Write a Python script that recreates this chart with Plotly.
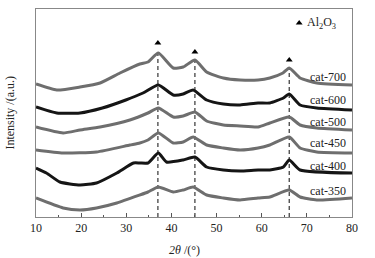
import plotly.graph_objects as go

# ---- data (intensity in arbitrary units) ----
two_theta_700 = [10, 14.6, 19.75, 24.2, 28.6, 33, 34.8, 37.1, 40.4, 42.6, 45.2, 47.8, 51.5, 55.2, 59.2, 61.8, 64.7, 66.1, 68.5, 72.2, 80]
cat_700 = [133, 127, 130, 134, 144, 153, 155, 164, 149, 150, 157, 145, 139, 137, 137, 139, 144, 149, 139, 134, 132]

two_theta_600 = [10, 14.6, 19.75, 24.7, 29.9, 33.7, 37.1, 40.4, 42.6, 44.8, 47.8, 51.5, 55.2, 59.2, 61.8, 64.8, 66.1, 68.5, 72.2, 80]
cat_600 = [110, 104, 104, 109, 117, 124, 132, 122, 123, 127, 117, 113, 112, 114, 114, 119, 123, 112, 109, 107]

two_theta_500 = [10, 16, 19.75, 24.2, 30.8, 34.8, 37.1, 40.4, 42.6, 45.2, 47.8, 51.5, 55.2, 59.2, 61.8, 66.1, 68.5, 72.2, 80]
cat_500 = [90, 84, 87, 90, 97, 104, 109, 100, 101, 105, 96, 92, 91, 90, 94, 100, 92, 89, 87]

two_theta_450 = [10, 16, 23.4, 30.8, 33, 34.8, 37.1, 40.4, 42.6, 44.8, 47.8, 51.5, 55.2, 59.2, 61.8, 66.1, 68.5, 72.2, 80]
cat_450 = [67, 64, 65, 72, 74, 77, 84, 74, 75, 80, 72, 69, 67, 69, 72, 80, 69, 65, 64]

two_theta_400 = [10, 12.3, 15.3, 19.75, 23.4, 27.9, 31.6, 33, 34.8, 37.1, 38.9, 42.6, 45.2, 47.8, 51.5, 55.2, 59.2, 61.8, 64.8, 66.1, 68.5, 80]
cat_400 = [49, 44, 35, 32, 34, 44, 54, 54, 54, 64, 55, 57, 60, 50, 47, 46, 47, 47, 50, 57, 47, 44]

two_theta_350 = [10, 16, 19.75, 23.4, 27.9, 33, 34.8, 37.1, 40.4, 42.6, 44.8, 47.8, 51.5, 55.2, 59.2, 61.8, 66.1, 68.5, 72.2, 80]
cat_350 = [19, 9, 7, 9, 14, 22, 25, 30, 25, 27, 30, 22, 19, 17, 19, 20, 27, 20, 17, 19]

series_names = ["cat-700", "cat-600", "cat-500", "cat-450", "cat-400", "cat-350"]
series_x = [two_theta_700, two_theta_600, two_theta_500, two_theta_450, two_theta_400, two_theta_350]
series_y = [cat_700, cat_600, cat_500, cat_450, cat_400, cat_350]
label_y = [140, 117, 95, 74, 51, 26]

al2o3_peaks = [37.0, 45.2, 66.1]
al2o3_line_top = [164, 157, 149]
al2o3_marker_y = [174, 165, 157]

x_ticks = [10, 20, 30, 40, 50, 60, 70, 80]

GRAY = "#6e6e6e"
BLACK = "#151515"
series_colors = [GRAY, BLACK, GRAY, GRAY, BLACK, GRAY]
FONT = "Liberation Serif, Times New Roman, serif"

fig = go.Figure()

# dashed reference lines at Al2O3 peaks
for px, top in zip(al2o3_peaks, al2o3_line_top):
    fig.add_trace(go.Scatter(x=[px, px], y=[0, top], mode="lines",
                             line=dict(color="#444444", width=1.3, dash="4px,3px"),
                             showlegend=False, hoverinfo="skip"))

for name, xs, ys, c in zip(series_names, series_x, series_y, series_colors):
    fig.add_trace(go.Scatter(x=xs, y=ys, mode="lines", name=name,
                             line=dict(color=c, width=3, shape="spline", smoothing=0.5),
                             showlegend=False))

# triangle markers above peaks
fig.add_trace(go.Scatter(x=al2o3_peaks, y=al2o3_marker_y, mode="markers",
                         marker=dict(symbol="triangle-up", size=6, color="black"),
                         showlegend=False))

# legend-like marker
fig.add_trace(go.Scatter(x=[68.3], y=[194], mode="markers",
                         marker=dict(symbol="triangle-up", size=6, color="black"),
                         showlegend=False))

annotations = [
    dict(x=69.5, y=194, xref="x", yref="y", text="Al<sub>2</sub>O<sub>3</sub>",
         showarrow=False, xanchor="left", yanchor="middle",
         font=dict(family=FONT, size=12, color="#222")),
]
for name, ly in zip(series_names, label_y):
    annotations.append(dict(x=79.2, y=ly, xref="x", yref="y", text=name, showarrow=False,
                            xanchor="right", yanchor="middle",
                            font=dict(family=FONT, size=12, color="#222")))
annotations.append(dict(x=0.47, y=-0.115, xref="paper", yref="paper",
                        text="<i>2θ</i> /(°)", showarrow=False, xanchor="center", yanchor="top",
                        font=dict(family=FONT, size=12, color="#222")))
annotations.append(dict(x=-0.055, y=0.5, xref="paper", yref="paper",
                        text="Intensity /(a.u.)", showarrow=False, textangle=-90,
                        xanchor="right", yanchor="middle",
                        font=dict(family=FONT, size=12, color="#222")))

fig.update_layout(
    width=375, height=258,
    margin=dict(l=36, r=23, t=9, b=41, autoexpand=False),
    paper_bgcolor="white", plot_bgcolor="white",
    annotations=annotations,
    xaxis=dict(range=[10, 80], tickvals=x_ticks, ticks="inside", ticklen=4, tickcolor="#555",
               showline=True, linecolor="#888", linewidth=1, mirror=True, showgrid=False,
               zeroline=False, tickfont=dict(family=FONT, size=12, color="#222"),
               minor=dict(dtick=5, tick0=5, ticks="inside", ticklen=2, tickcolor="#555")),
    yaxis=dict(range=[0, 208], showticklabels=False, ticks="", showline=True, linecolor="#888",
               linewidth=1, mirror=True, showgrid=False, zeroline=False),
)

fig.write_html("out.html", config={"displayModeBar": False},
               post_script="document.body.style.margin='0';document.body.style.overflow='hidden';")
